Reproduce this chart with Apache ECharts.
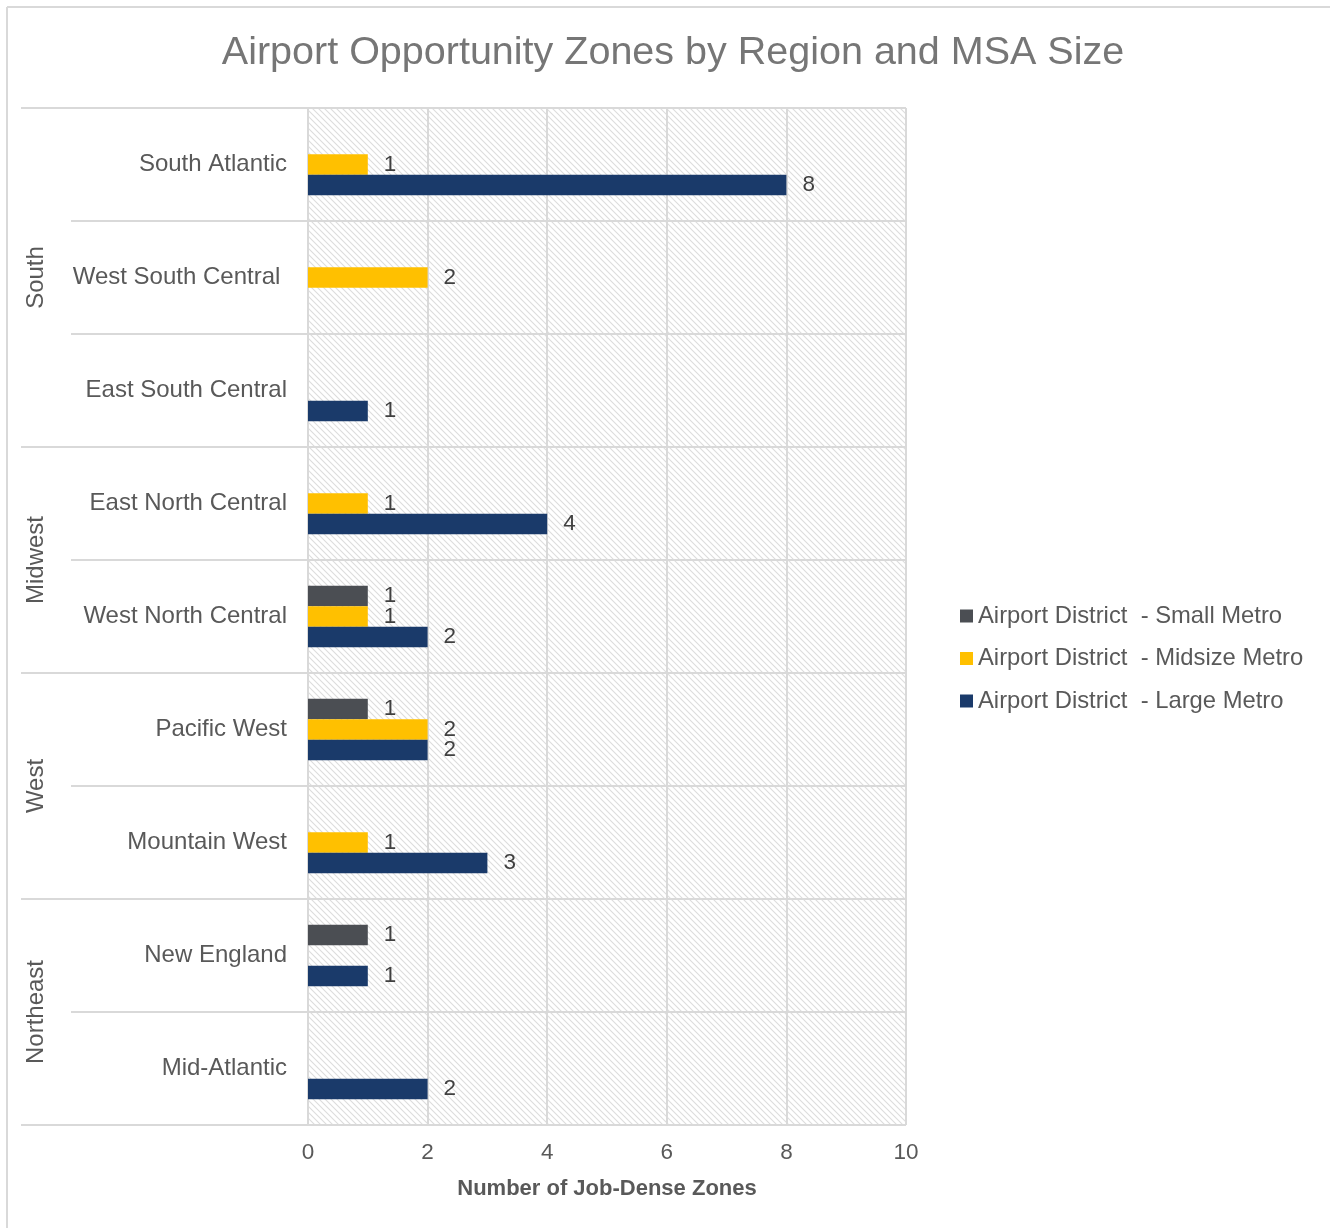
<!DOCTYPE html>
<html>
<head>
<meta charset="utf-8">
<script src="https://cdn.jsdelivr.net/npm/echarts@6/dist/echarts.min.js"></script>
<style>html,body{margin:0;padding:0;background:#fff;}#main{width:1330px;height:1228px;}</style>
</head>
<body>
<div id="main"></div>
<script>
const categories = ['South Atlantic','West South Central ','East South Central','East North Central','West North Central','Pacific West','Mountain West','New England','Mid-Atlantic'];
const groups = [
  {name:'South', start:0, end:2},
  {name:'Midwest', start:3, end:4},
  {name:'West', start:5, end:6},
  {name:'Northeast', start:7, end:8}
];
const seriesNames = ['Airport District  - Small Metro','Airport District  - Midsize Metro','Airport District  - Large Metro'];
const smallMetro   = [null, null, null, null, 1, 1, null, 1, null];
const midsizeMetro = [1, 2, null, 1, 1, 2, 1, null, null];
const largeMetro   = [8, null, 1, 4, 2, 2, 3, 1, 2];
const xTicks = {min:0, max:10, interval:2};

const FONT = '"Liberation Sans", Arial, sans-serif';
const GRID = '#d9d9d9';

// hatch pattern
const pc = document.createElement('canvas');
pc.width = 6; pc.height = 6;
const px = pc.getContext('2d');
px.fillStyle = '#ffffff'; px.fillRect(0,0,6,6);
px.strokeStyle = '#dcdcdc'; px.lineWidth = 1.1;
px.beginPath(); px.moveTo(-1,-1); px.lineTo(7,7); px.stroke();
px.beginPath(); px.moveTo(-1,5); px.lineTo(1,7); px.stroke();
px.beginPath(); px.moveTo(5,-1); px.lineTo(7,1); px.stroke();

const chart = echarts.init(document.getElementById('main'), null, {renderer:'canvas'});
const colors = ['#4B4E53','#FFC000','#1A3A6A'];
const datasets = [smallMetro, midsizeMetro, largeMetro];

const option = {
  animation: false,
  backgroundColor: '#ffffff',
  textStyle: {fontFamily: FONT},
  title: {
    text: 'Airport Opportunity Zones by Region and MSA Size',
    left: 668, top: 28, textAlign: 'center',
    textStyle: {fontFamily: FONT, fontSize: 39.5, fontWeight: 'normal', color: '#767676'}
  },
  legend: {
    orient: 'vertical', left: 960, top: 604, padding: 0,
    icon: 'rect', itemWidth: 13, itemHeight: 13, itemGap: 18.5, itemStyle: {borderWidth: 0},
    textStyle: {fontFamily: FONT, fontSize: 23.8, color: '#595959'},
    data: seriesNames
  },
  grid: {
    left: 308, right: 424, top: 108, bottom: 103,
    outerBoundsMode: 'none', containLabel: false,
    show: true, borderWidth: 0,
    backgroundColor: {image: pc, repeat: 'repeat'}
  },
  xAxis: {
    type: 'value', min: xTicks.min, max: xTicks.max, interval: xTicks.interval,
    axisLine: {show: false}, axisTick: {show: false},
    splitLine: {show: true, lineStyle: {color: GRID, width: 2}},
    axisLabel: {margin: 16, fontSize: 22.5, color: '#595959', fontFamily: FONT},
    name: 'Number of Job-Dense Zones', nameLocation: 'middle', nameGap: 53,
    nameTextStyle: {fontFamily: FONT, fontSize: 22, fontWeight: 'bold', color: '#595959'}
  },
  yAxis: {
    type: 'category', inverse: true, data: categories,
    axisLine: {show: true, lineStyle: {color: GRID, width: 2}},
    axisTick: {show: true, length: 237, lineStyle: {color: GRID, width: 2}},
    splitLine: {show: true, lineStyle: {color: GRID, width: 2}},
    axisLabel: {margin: 21, fontSize: 24, color: '#595959', fontFamily: FONT}
  },
  series: seriesNames.map((n, i) => ({
    name: n, type: 'bar', data: datasets[i],
    barWidth: 20.5, barGap: '0%',
    itemStyle: {color: colors[i]},
    label: {show: true, position: 'right', distance: 16, fontSize: 22.5, color: '#404040', fontFamily: FONT}
  }))
};
chart.setOption(option);

// group separators and labels
const yPx = i => chart.convertToPixel({yAxisIndex: 0}, i);
const band = yPx(1) - yPx(0);
const gfx = [];
groups.forEach(g => {
  const top = yPx(g.start) - band/2;
  const bot = yPx(g.end) + band/2;
  [top, bot].forEach(y => {
    gfx.push({type:'line', shape:{x1:21, y1:y, x2:72, y2:y}, style:{stroke:GRID, lineWidth:2}, silent:true});
  });
  gfx.push({type:'text', x:36, y:(top+bot)/2, rotation: Math.PI/2,
    style:{text:g.name, font:'24px ' + FONT, fill:'#595959', align:'center', verticalAlign:'middle'}, silent:true});
});
// outer frame
gfx.push({type:'line', shape:{x1:7, y1:7, x2:1330, y2:7}, style:{stroke:'#d9d9d9', lineWidth:2}, silent:true});
gfx.push({type:'line', shape:{x1:7, y1:7, x2:7, y2:1228}, style:{stroke:'#d9d9d9', lineWidth:2}, silent:true});
chart.setOption({graphic: gfx});
</script>
</body>
</html>
